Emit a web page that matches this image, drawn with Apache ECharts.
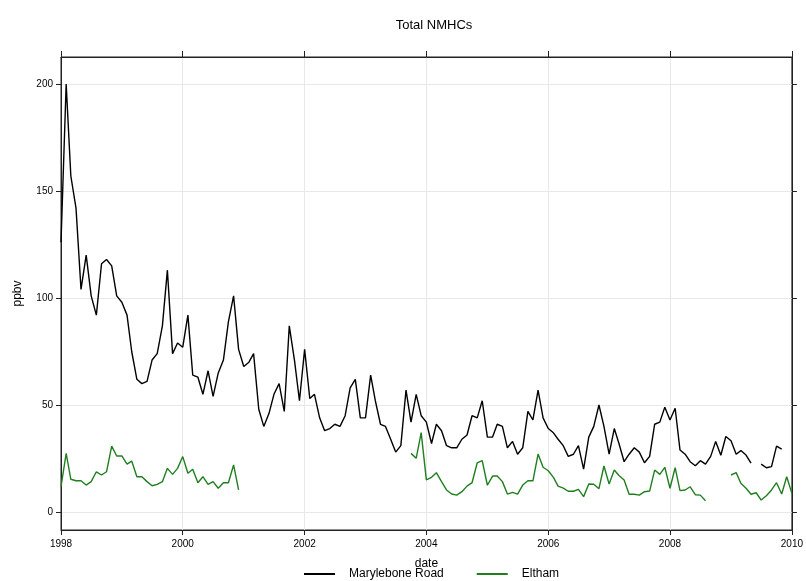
<!DOCTYPE html>
<html>
<head>
<meta charset="utf-8">
<script src="https://cdn.jsdelivr.net/npm/echarts@6/dist/echarts.min.js"></script>
<style>
  html, body { margin: 0; padding: 0; background: #fff; }
  #chart { width: 806px; height: 581px; }
</style>
</head>
<body>
<div id="chart"></div>
<script>
// Monthly means of total non-methane hydrocarbons (ppbv), Jan 1998 onward
const startYear = 1998;
const startMonth = 0;

const marylebone = [
  126, 200, 157, 142, 104, 120, 101, 92, 116, 118, 115, 101,
  98, 92, 75, 62, 60, 61, 71, 74, 87, 113, 74, 79,
  77, 92, 64, 63, 55, 66, 54, 65, 71, 89, 101, 76,
  68, 70, 74, 48, 40, 46, 55, 60, 47, 87, 71, 52,
  76, 53, 55, 44, 38, 39, 41, 40, 45, 58, 62, 44,
  44, 64, 52, 41, 40, 34, 28, 31, 57, 42, 55, 45,
  42, 32, 41, 38, 31, 30, 30, 34, 36, 45, 44, 52,
  35, 35, 41, 40, 30, 33, 27, 30, 47, 43, 57, 44,
  39, 37, 34, 31, 26, 27, 31, 20, 35, 40, 50, 40,
  27, 39, 32, 23.5, 27, 30, 28, 23, 26, 41, 42, 49,
  43, 48.5, 29, 27, 23.5, 21.6, 24, 22.4, 26, 33, 26.5, 35.3,
  33.3, 27, 28.7, 26.6, 22.8, null, 22.4, 20.7, 21.2, 30.8, 29.4, null,
  null
];

const eltham = [
  11.8, 27.4, 15.3, 14.6, 14.6, 12.6, 14.2, 18.8, 17.3, 18.8, 30.8, 26.2,
  26.2, 22.4, 23.8, 16.5, 16.5, 14.2, 12.3, 12.9, 14.2, 20.4, 17.6, 20.4,
  25.9, 18.1, 20, 13.7, 16.5, 12.9, 14.2, 11.1, 13.7, 13.7, 22, 10.3,
  null, null, null, null, null, null, null, null, null, null, null, null,
  null, null, null, null, null, null, null, null, null, null, null, null,
  null, null, null, null, null, null, null, null, null, 27.4, 25.1, 37.1,
  15, 16.2, 18.4, 14.2, 10.3, 8.4, 7.9, 9.5, 12.1, 13.7, 23, 24,
  12.5, 16.8, 16.8, 14.2, 8.4, 9.2, 8.4, 12.6, 14.6, 14.6, 27.1, 20.9,
  19.3, 16.2, 12.1, 11.2, 9.7, 9.7, 10.6, 7.2, 13.1, 13, 10.9, 21.5,
  13.1, 19.6, 17.1, 15, 8.3, 8.3, 7.9, 9.5, 9.8, 19.6, 17.6, 20.9,
  11.1, 20.7, 10, 10.3, 11.8, 8.1, 7.9, 5.3, null, null, null, null,
  17.3, 18.4, 13.4, 11.1, 8.3, 9, 5.6, 7.6, 10.3, 13.7, 8.4, 16.5,
  8.7
];

const yTicks = [0, 50, 100, 150, 200];
const xTickYears = [1998, 2000, 2002, 2004, 2006, 2008, 2010];
const seriesNames = ['Marylebone Road', 'Eltham'];
const seriesColors = ['#000000', '#1f7f1f'];

// x positions are millisecond timestamps on a plain value axis
function monthTime(i) {
  return new Date(startYear, startMonth + i, 1).getTime();
}
function pair(values) {
  return values.map((v, i) => [monthTime(i), v]);
}
const xTickTimes = xTickYears.map(y => new Date(y, 0, 1).getTime());

const font = "'Liberation Sans Narrow', 'Arial Narrow', 'Liberation Sans', Arial, sans-serif";
const frame = '#222222';
const gridColor = '#e8e8e8';

const chart = echarts.init(document.getElementById('chart'), null, { renderer: 'canvas' });

chart.setOption({
  animation: false,
  backgroundColor: '#ffffff',
  textStyle: { fontFamily: font },
  title: {
    text: 'Total NMHCs',
    left: 429,
    top: 14,
    textAlign: 'center',
    textStyle: { fontFamily: font, fontSize: 13, fontWeight: 'normal', color: '#000' }
  },
  legend: {
    data: seriesNames.map((n, i) => ({ name: n, icon: 'rect', itemStyle: { color: seriesColors[i] } })),
    left: 299,
    top: 563,
    itemWidth: 31,
    itemHeight: 2,
    itemGap: 33,
    textStyle: { fontFamily: font, fontSize: 12, color: '#000', padding: [0, 0, 0, 9] }
  },
  grid: {
    left: 61, right: 9, top: 57, bottom: 51,
    show: true, borderColor: frame, borderWidth: 1, containLabel: false
  },
  xAxis: [
    {
      type: 'value',
      min: xTickTimes[0],
      max: xTickTimes[xTickTimes.length - 1],
      position: 'bottom',
      name: 'date',
      nameLocation: 'middle',
      nameGap: 28,
      nameTextStyle: { fontFamily: font, fontSize: 12, color: '#000' },
      axisLine: { show: true, onZero: false, lineStyle: { color: frame, width: 1 } },
      axisTick: { show: true, length: 5, customValues: xTickTimes, lineStyle: { color: frame } },
      axisLabel: {
        customValues: xTickTimes,
        formatter: v => String(new Date(v).getFullYear()),
        fontFamily: font, fontSize: 10, color: '#000', margin: 9
      },
      splitLine: { show: true, lineStyle: { color: gridColor, width: 1 } }
    },
    {
      type: 'value',
      min: xTickTimes[0],
      max: xTickTimes[xTickTimes.length - 1],
      position: 'top',
      axisLine: { show: true, onZero: false, lineStyle: { color: frame, width: 1 } },
      axisTick: { show: true, length: 6, customValues: xTickTimes, lineStyle: { color: frame } },
      axisLabel: { show: false },
      splitLine: { show: false }
    }
  ],
  yAxis: [
    {
      type: 'value',
      min: -8.4,
      max: 212.6,
      position: 'left',
      name: 'ppbv',
      nameLocation: 'middle',
      nameGap: 37,
      nameRotate: 90,
      nameTextStyle: { fontFamily: font, fontSize: 12, color: '#000' },
      axisLine: { show: true, onZero: false, lineStyle: { color: frame, width: 1 } },
      axisTick: { show: true, length: 5, customValues: yTicks, lineStyle: { color: frame } },
      axisLabel: { customValues: yTicks, fontFamily: font, fontSize: 10, color: '#000', margin: 8 },
      splitLine: { show: true, lineStyle: { color: gridColor, width: 1 } }
    },
    {
      type: 'value',
      min: -8.4,
      max: 212.6,
      position: 'right',
      axisLine: { show: true, onZero: false, lineStyle: { color: frame, width: 1 } },
      axisTick: { show: true, length: 5, customValues: yTicks, lineStyle: { color: frame } },
      axisLabel: { show: false },
      splitLine: { show: false }
    }
  ],
  series: [
    {
      name: seriesNames[0],
      type: 'line',
      data: pair(marylebone),
      showSymbol: false,
      connectNulls: false,
      color: seriesColors[0],
      lineStyle: { color: seriesColors[0], width: 1.4 },
      z: 3
    },
    {
      name: seriesNames[1],
      type: 'line',
      data: pair(eltham),
      showSymbol: false,
      connectNulls: false,
      color: seriesColors[1],
      lineStyle: { color: seriesColors[1], width: 1.4 },
      z: 2
    }
  ]
});
</script>
</body>
</html>
